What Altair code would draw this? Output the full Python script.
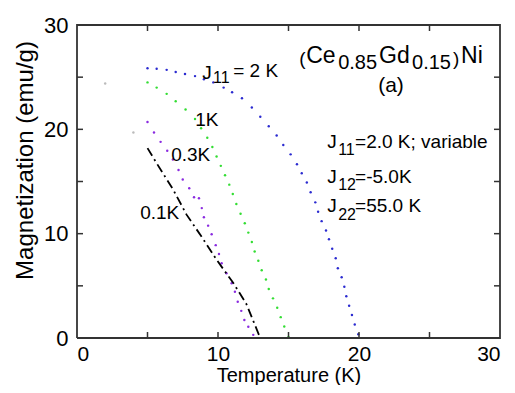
import altair as alt
import pandas as pd

# ---- data ----
T_J2 = [5.0, 5.65, 6.36, 7.0, 7.66, 8.37, 9.0, 9.67, 10.4, 11.0, 11.7, 12.4, 13.0, 13.6, 14.16,
        14.63, 15.15, 15.6, 15.94, 16.3, 16.57, 16.9, 17.1, 17.35, 17.66, 17.87, 18.1, 18.35,
        18.5, 18.77, 18.96, 19.1, 19.3, 19.5, 19.7, 19.95]
M_J2 = [25.86, 25.8, 25.7, 25.5, 25.3, 25.1, 24.8, 24.5, 24.0, 23.55, 22.98, 22.1, 21.2, 20.3, 19.4,
        18.5, 17.6, 16.65, 15.8, 14.9, 13.97, 13.0, 12.1, 11.2, 10.3, 9.46, 8.56, 7.64,
        6.68, 5.82, 4.92, 4.0, 3.1, 2.2, 1.3, 0.35]

T_J1 = [5.0, 5.65, 6.36, 7.0, 7.7, 8.37, 8.8, 9.24, 9.6, 9.9, 10.2, 10.5, 10.8, 11.05, 11.3, 11.6,
        11.9, 12.15, 12.4, 12.6, 12.86, 13.1, 13.4, 13.6, 13.9, 14.2, 14.45, 14.7, 15.0]
M_J1 = [24.5, 24.0, 23.4, 22.7, 21.9, 21.0, 20.1, 19.2, 18.3, 17.4, 16.5, 15.6, 14.7, 13.8, 12.85, 11.9,
        11.0, 10.1, 9.2, 8.3, 7.4, 6.5, 5.6, 4.7, 3.8, 2.9, 2.0, 1.1, 0.1]

T_J03 = [5.0, 5.46, 5.93, 6.4, 6.8, 7.2, 7.5, 7.96, 8.3, 8.65, 8.85, 9.0, 9.3, 9.55, 9.84, 10.07,
         10.26, 10.6, 10.97, 11.2, 11.4, 11.65, 11.87, 12.15, 12.5]
M_J03 = [20.7, 19.7, 18.8, 17.95, 17.1, 16.1, 15.2, 14.35, 13.5, 13.4, 12.45, 11.57, 10.77, 9.94, 8.9, 8.05,
         7.16, 6.2, 5.24, 4.44, 3.48, 2.6, 1.73, 1.08, 0.3]

T_J01 = [5.0, 5.65, 6.83, 7.78, 8.84, 9.9, 11.1, 12.0, 12.86, 13.0]
M_J01 = [18.2, 16.75, 14.2, 11.8, 9.7, 7.5, 5.24, 3.3, 0.45, 0.0]

T_FAINT = [2.0, 4.0]
M_FAINT = [24.4, 19.7]

X_DOMAIN = [0, 30]
Y_DOMAIN = [0, 30]
X_LABEL_VALUES = [0, 10, 20, 30]
Y_LABEL_VALUES = [0, 10, 20, 30]
X_TICKS = [5, 10, 15, 20, 25]
Y_TICKS = [5, 10, 15, 20, 25]

TEXT_X = [8.88, 9.64, 11.08, 8.38, 6.68, 4.48,
          15.76, 16.25, 18.52, 21.42, 23.76, 26.67, 27.24, 21.36,
          17.75, 18.52, 19.72, 17.75, 18.52, 19.72, 17.75, 18.52, 19.72]
TEXT_Y = [24.84, 24.45, 25.03, 20.34, 16.98, 11.43,
          26.18, 26.37, 25.80, 26.37, 25.80, 26.18, 26.37, 23.59,
          18.23, 17.56, 18.23, 14.88, 14.21, 14.88, 12.10, 11.33, 12.10]
TEXT_S = ["J", "11", "= 2 K", "1K", "0.3K", "0.1K",
          "(", "Ce", "0.85", "Gd", "0.15", ")", "Ni", "(a)",
          "J", "11", "=2.0 K; variable", "J", "12", "=-5.0K", "J", "22", "=55.0 K"]
TEXT_SIZE = [19, 16, 19, 19, 19, 19,
             19, 23, 20, 23, 20, 19, 23, 21,
             19, 16, 19, 19, 16, 19, 19, 16, 19]

W, H = 423, 313
FONT = "Liberation Sans"
FRAME = "black"
TICK_PX = 6

xs = alt.Scale(domain=X_DOMAIN, nice=False)
ys = alt.Scale(domain=Y_DOMAIN, nice=False)

dots = pd.concat([
    pd.DataFrame({"T": T_J2, "M": M_J2, "s": "J2"}),
    pd.DataFrame({"T": T_J1, "M": M_J1, "s": "J1"}),
    pd.DataFrame({"T": T_J03, "M": M_J03, "s": "J03"}),
    pd.DataFrame({"T": T_FAINT, "M": M_FAINT, "s": "faint"}),
], ignore_index=True)
line01 = pd.DataFrame({"T": T_J01, "M": M_J01})
texts = pd.DataFrame({"x": TEXT_X, "y": TEXT_Y, "t": TEXT_S, "size": TEXT_SIZE})
xl = pd.DataFrame({"v": X_LABEL_VALUES})

# frame outline built from the axis domains
x0, x1 = X_DOMAIN
y0, y1 = Y_DOMAIN
frame_df = pd.DataFrame({"T": [x0, x1, x1, x0, x0], "M": [y0, y0, y1, y1, y0], "o": [0, 1, 2, 3, 4]})

# inward tick segments built from the tick arrays (length expressed via axis units)
dx = TICK_PX * (x1 - x0) / W
dy = TICK_PX * (y1 - y0) / H
rows = []
g = 0
for v in X_TICKS:
    rows += [(g, 0, v, y0), (g, 1, v, y0 + dy)]; g += 1
    rows += [(g, 0, v, y1), (g, 1, v, y1 - dy)]; g += 1
for v in Y_TICKS:
    rows += [(g, 0, x0, v), (g, 1, x0 + dx, v)]; g += 1
    rows += [(g, 0, x1, v), (g, 1, x1 - dx, v)]; g += 1
ticks_df = pd.DataFrame(rows, columns=["g", "o", "T", "M"])

base_axes = alt.Chart(xl).mark_point(opacity=0).encode(
    x=alt.X("v:Q", scale=xs,
            axis=alt.Axis(values=X_LABEL_VALUES, title="Temperature (K)", format="d",
                          domain=False, ticks=False, grid=False,
                          labelFont=FONT, titleFont=FONT, labelColor="black", titleColor="black",
                          labelFontSize=21, labelPadding=5, titleFontSize=20,
                          titleFontWeight="normal", titleY=43, titleBaseline="alphabetic")),
    y=alt.Y("v:Q", scale=ys,
            axis=alt.Axis(values=Y_LABEL_VALUES, title="Magnetization (emu/g)", format="d",
                          domain=False, ticks=False, grid=False,
                          labelFont=FONT, titleFont=FONT, labelColor="black", titleColor="black",
                          labelFontSize=22, labelPadding=9, titleFontSize=24,
                          titleFontWeight="normal", titleX=-45, titleY=135,
                          titleBaseline="alphabetic")),
)

pts = alt.Chart(dots).mark_circle(size=6, opacity=1).encode(
    x=alt.X("T:Q", scale=xs),
    y=alt.Y("M:Q", scale=ys),
    color=alt.Color("s:N", legend=None,
                    scale=alt.Scale(domain=["J2", "J1", "J03", "faint"],
                                    range=["#2b2bd0", "#33dd33", "#8a2be0", "#bbbbbb"])),
)

ln = alt.Chart(line01).mark_line(color="black", strokeWidth=1.8, strokeDash=[9, 4, 2, 4]).encode(
    x=alt.X("T:Q", scale=xs),
    y=alt.Y("M:Q", scale=ys),
)

txt = alt.Chart(texts).mark_text(font=FONT, align="left", baseline="alphabetic", color="black").encode(
    x=alt.X("x:Q", scale=xs),
    y=alt.Y("y:Q", scale=ys),
    text="t:N",
    size=alt.Size("size:Q", scale=None),
)

frame = alt.Chart(frame_df).mark_line(color="#333333", strokeWidth=1.8).encode(
    x=alt.X("T:Q", scale=xs),
    y=alt.Y("M:Q", scale=ys),
    order=alt.Order("o:Q"),
)

ticks = alt.Chart(ticks_df).mark_line(color="#333333", strokeWidth=1.5).encode(
    x=alt.X("T:Q", scale=xs),
    y=alt.Y("M:Q", scale=ys),
    detail="g:N",
    order=alt.Order("o:Q"),
)

chart = alt.layer(base_axes, pts, ln, txt, frame, ticks).properties(
    width=W, height=H,
    autosize=alt.AutoSizeParams(type="none"),
    padding={"left": 69, "top": 17, "right": 7, "bottom": 47},
).configure_view(stroke=None)

chart.save("out.html", embed_options={"renderer": "svg", "actions": False})
